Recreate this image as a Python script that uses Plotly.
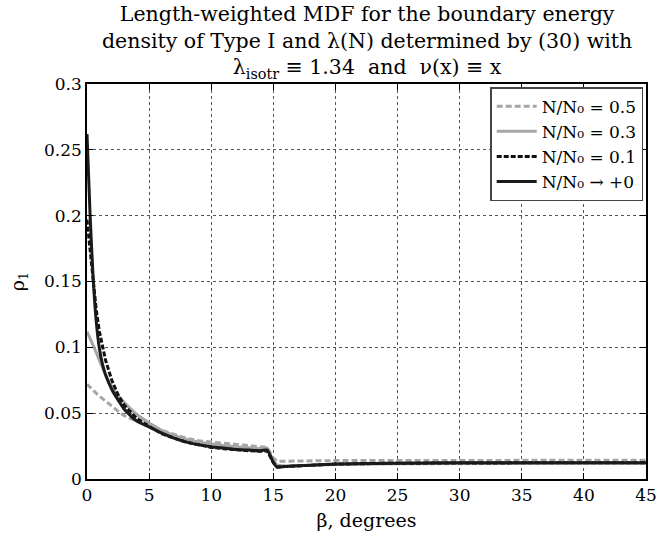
import plotly.graph_objects as go

beta = [0, 0.25, 0.5, 0.75, 1, 1.25, 1.5, 2, 2.5, 3, 4, 5, 6, 7, 8, 9, 10, 11, 12, 13, 14, 14.5, 15, 15.3, 16, 18, 20, 25, 30, 35, 40, 45]

rho_05 = [0.072, 0.0695, 0.067, 0.065, 0.063, 0.061, 0.059, 0.055, 0.0515, 0.048, 0.044, 0.041, 0.037, 0.034, 0.031, 0.029, 0.028, 0.027, 0.026, 0.025, 0.0245, 0.024, 0.016, 0.0135, 0.0135, 0.0138, 0.014, 0.0141, 0.0142, 0.0142, 0.0142, 0.0142]
rho_03 = [0.112, 0.107, 0.102, 0.096, 0.090, 0.084, 0.079, 0.070, 0.063, 0.058, 0.049, 0.0425, 0.037, 0.033, 0.030, 0.028, 0.0265, 0.0255, 0.0245, 0.0238, 0.023, 0.0235, 0.014, 0.0105, 0.0098, 0.0105, 0.011, 0.0115, 0.0118, 0.012, 0.012, 0.012]
rho_01 = [0.197, 0.175, 0.150, 0.128, 0.112, 0.100, 0.090, 0.075, 0.064, 0.056, 0.046, 0.040, 0.0345, 0.031, 0.028, 0.026, 0.024, 0.023, 0.022, 0.0215, 0.021, 0.0215, 0.0125, 0.0092, 0.0095, 0.0105, 0.0113, 0.012, 0.0123, 0.0124, 0.0124, 0.0124]
rho_0 = [0.262, 0.200, 0.152, 0.119, 0.099, 0.087, 0.079, 0.068, 0.060, 0.053, 0.044, 0.0395, 0.035, 0.031, 0.028, 0.026, 0.0245, 0.0235, 0.0225, 0.022, 0.0215, 0.022, 0.0125, 0.009, 0.0095, 0.0105, 0.0113, 0.012, 0.0123, 0.0124, 0.0124, 0.0124]

names = ["N/N₀ = 0.5", "N/N₀ = 0.3", "N/N₀ = 0.1", "N/N₀ → +0"]
title_text = ("Length-weighted MDF for the boundary energy<br>"
              "density of Type I and λ(N) determined by (30) with<br>"
              "λ<sub>isotr</sub> ≡ 1.34  and  ν(x) ≡ x")

FONT = "DejaVu Serif"

fig = go.Figure()
fig.add_trace(go.Scatter(x=beta, y=rho_05, name=names[0], mode="lines",
                         line=dict(color="#a6a6a6", width=3, dash="6px,3px")))
fig.add_trace(go.Scatter(x=beta, y=rho_03, name=names[1], mode="lines",
                         line=dict(color="#a6a6a6", width=3)))
fig.add_trace(go.Scatter(x=beta, y=rho_01, name=names[2], mode="lines",
                         line=dict(color="#111111", width=3, dash="5px,2px")))
fig.add_trace(go.Scatter(x=beta, y=rho_0, name=names[3], mode="lines",
                         line=dict(color="#1a1a1a", width=3, shape="spline", smoothing=0.6)))

axis_common = dict(
    showline=True, linecolor="black", linewidth=1.5, mirror="ticks",
    ticks="inside", ticklen=6, tickcolor="black",
    showgrid=True, gridcolor="#555555", griddash="dot", gridwidth=1,
    zeroline=False,
    tickfont=dict(family=FONT, size=17, color="black"),
)

fig.update_layout(
    width=668, height=545,
    margin=dict(l=87, r=11, t=84, b=66),
    paper_bgcolor="white", plot_bgcolor="white",
    xaxis=dict(range=[0, 45], dtick=5,
               title=dict(text="β, degrees", font=dict(family=FONT, size=19, color="black"), standoff=10),
               **axis_common),
    yaxis=dict(range=[0, 0.3], dtick=0.05, tickformat="~g",
               title=dict(text="ρ<sub>1</sub>", font=dict(family=FONT, size=19, color="black"), standoff=14),
               **axis_common),
    legend=dict(x=0.995, y=0.992, xanchor="right", yanchor="top",
                bgcolor="white", bordercolor="#444444", borderwidth=1.5,
                font=dict(family=FONT, size=17, color="black"),
                tracegroupgap=0, itemwidth=40),
    showlegend=True,
)

fig.add_annotation(text=title_text, xref="paper", yref="paper", x=0.5, y=1.0,
                   xanchor="center", yanchor="bottom", yshift=0, showarrow=False,
                   font=dict(family=FONT, size=20.5, color="black"))

fig.write_html("out.html")
